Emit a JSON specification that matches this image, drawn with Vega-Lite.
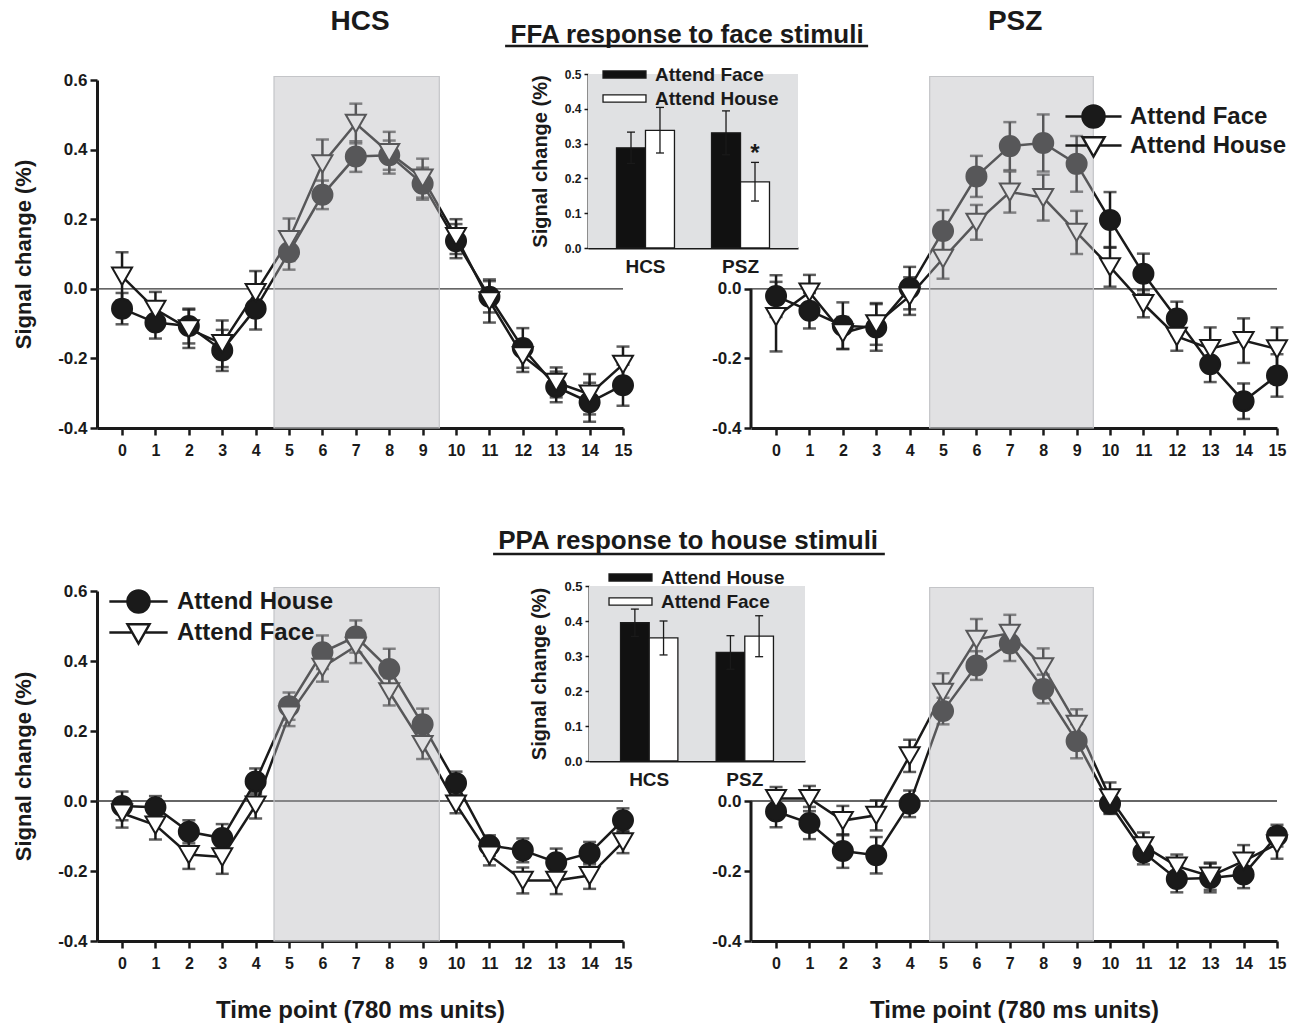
{
  "$schema": "https://vega.github.io/schema/vega-lite/v6.json",
  "width": 1297,
  "height": 1025,
  "autosize": "none",
  "padding": 0,
  "background": "#ffffff",
  "config": {
    "view": {"stroke": null},
    "font": "Liberation Sans",
    "locale": {"number": {"decimal": ".", "thousands": ",", "grouping": [3], "currency": ["$", ""], "minus": "-"}},
    "axis": {"grid": false, "domainColor": "#1a1a1a", "tickColor": "#1a1a1a", "labelColor": "#1a1a1a", "titleColor": "#1a1a1a", "labelFont": "Liberation Sans", "titleFont": "Liberation Sans", "labelFontWeight": "bold", "titleFontWeight": "bold", "labelOverlap": false, "labelFlush": false},
    "legend": {"labelFont": "Liberation Sans", "labelFontWeight": "bold", "labelColor": "#1a1a1a", "padding": 0, "labelLimit": 500, "title": null}
  },
  "datasets": {
    "ffa_hcs": [
      {"t":0,"cond":"Attend Face","v":-0.057,"lo":-0.102,"hi":-0.012},
      {"t":1,"cond":"Attend Face","v":-0.097,"lo":-0.143,"hi":-0.051},
      {"t":2,"cond":"Attend Face","v":-0.107,"lo":-0.157,"hi":-0.057},
      {"t":3,"cond":"Attend Face","v":-0.177,"lo":-0.236,"hi":-0.118},
      {"t":4,"cond":"Attend Face","v":-0.057,"lo":-0.117,"hi":0.003},
      {"t":5,"cond":"Attend Face","v":0.105,"lo":0.055,"hi":0.155},
      {"t":6,"cond":"Attend Face","v":0.270,"lo":0.229,"hi":0.311},
      {"t":7,"cond":"Attend Face","v":0.380,"lo":0.336,"hi":0.424},
      {"t":8,"cond":"Attend Face","v":0.384,"lo":0.342,"hi":0.426},
      {"t":9,"cond":"Attend Face","v":0.302,"lo":0.256,"hi":0.348},
      {"t":10,"cond":"Attend Face","v":0.137,"lo":0.088,"hi":0.186},
      {"t":11,"cond":"Attend Face","v":-0.023,"lo":-0.068,"hi":0.022},
      {"t":12,"cond":"Attend Face","v":-0.170,"lo":-0.227,"hi":-0.113},
      {"t":13,"cond":"Attend Face","v":-0.282,"lo":-0.326,"hi":-0.238},
      {"t":14,"cond":"Attend Face","v":-0.326,"lo":-0.382,"hi":-0.270},
      {"t":15,"cond":"Attend Face","v":-0.277,"lo":-0.336,"hi":-0.218},
      {"t":0,"cond":"Attend House","v":0.036,"lo":-0.033,"hi":0.105},
      {"t":1,"cond":"Attend House","v":-0.059,"lo":-0.109,"hi":-0.009},
      {"t":2,"cond":"Attend House","v":-0.115,"lo":-0.170,"hi":-0.060},
      {"t":3,"cond":"Attend House","v":-0.158,"lo":-0.225,"hi":-0.091},
      {"t":4,"cond":"Attend House","v":-0.011,"lo":-0.073,"hi":0.051},
      {"t":5,"cond":"Attend House","v":0.141,"lo":0.080,"hi":0.202},
      {"t":6,"cond":"Attend House","v":0.359,"lo":0.289,"hi":0.429},
      {"t":7,"cond":"Attend House","v":0.475,"lo":0.418,"hi":0.532},
      {"t":8,"cond":"Attend House","v":0.391,"lo":0.331,"hi":0.451},
      {"t":9,"cond":"Attend House","v":0.318,"lo":0.262,"hi":0.374},
      {"t":10,"cond":"Attend House","v":0.150,"lo":0.100,"hi":0.200},
      {"t":11,"cond":"Attend House","v":-0.035,"lo":-0.097,"hi":0.027},
      {"t":12,"cond":"Attend House","v":-0.193,"lo":-0.239,"hi":-0.147},
      {"t":13,"cond":"Attend House","v":-0.269,"lo":-0.312,"hi":-0.226},
      {"t":14,"cond":"Attend House","v":-0.303,"lo":-0.361,"hi":-0.245},
      {"t":15,"cond":"Attend House","v":-0.217,"lo":-0.268,"hi":-0.166}
    ],
    "ffa_psz": [
      {"t":0,"cond":"Attend Face","v":-0.021,"lo":-0.081,"hi":0.039},
      {"t":1,"cond":"Attend Face","v":-0.063,"lo":-0.114,"hi":-0.012},
      {"t":2,"cond":"Attend Face","v":-0.106,"lo":-0.173,"hi":-0.039},
      {"t":3,"cond":"Attend Face","v":-0.111,"lo":-0.178,"hi":-0.044},
      {"t":4,"cond":"Attend Face","v":0.002,"lo":-0.059,"hi":0.063},
      {"t":5,"cond":"Attend Face","v":0.166,"lo":0.106,"hi":0.226},
      {"t":6,"cond":"Attend Face","v":0.323,"lo":0.264,"hi":0.382},
      {"t":7,"cond":"Attend Face","v":0.410,"lo":0.341,"hi":0.479},
      {"t":8,"cond":"Attend Face","v":0.419,"lo":0.337,"hi":0.501},
      {"t":9,"cond":"Attend Face","v":0.359,"lo":0.279,"hi":0.439},
      {"t":10,"cond":"Attend Face","v":0.198,"lo":0.118,"hi":0.278},
      {"t":11,"cond":"Attend Face","v":0.043,"lo":-0.015,"hi":0.101},
      {"t":12,"cond":"Attend Face","v":-0.085,"lo":-0.133,"hi":-0.037},
      {"t":13,"cond":"Attend Face","v":-0.217,"lo":-0.268,"hi":-0.166},
      {"t":14,"cond":"Attend Face","v":-0.323,"lo":-0.374,"hi":-0.272},
      {"t":15,"cond":"Attend Face","v":-0.249,"lo":-0.310,"hi":-0.188},
      {"t":0,"cond":"Attend House","v":-0.080,"lo":-0.180,"hi":0.020},
      {"t":1,"cond":"Attend House","v":-0.010,"lo":-0.060,"hi":0.040},
      {"t":2,"cond":"Attend House","v":-0.127,"lo":-0.173,"hi":-0.081},
      {"t":3,"cond":"Attend House","v":-0.101,"lo":-0.161,"hi":-0.041},
      {"t":4,"cond":"Attend House","v":-0.021,"lo":-0.075,"hi":0.033},
      {"t":5,"cond":"Attend House","v":0.087,"lo":0.029,"hi":0.145},
      {"t":6,"cond":"Attend House","v":0.191,"lo":0.141,"hi":0.241},
      {"t":7,"cond":"Attend House","v":0.278,"lo":0.219,"hi":0.337},
      {"t":8,"cond":"Attend House","v":0.262,"lo":0.196,"hi":0.328},
      {"t":9,"cond":"Attend House","v":0.162,"lo":0.100,"hi":0.224},
      {"t":10,"cond":"Attend House","v":0.063,"lo":0.006,"hi":0.120},
      {"t":11,"cond":"Attend House","v":-0.043,"lo":-0.082,"hi":-0.004},
      {"t":12,"cond":"Attend House","v":-0.137,"lo":-0.178,"hi":-0.096},
      {"t":13,"cond":"Attend House","v":-0.172,"lo":-0.233,"hi":-0.111},
      {"t":14,"cond":"Attend House","v":-0.149,"lo":-0.213,"hi":-0.085},
      {"t":15,"cond":"Attend House","v":-0.173,"lo":-0.235,"hi":-0.111}
    ],
    "ppa_hcs": [
      {"t":0,"cond":"Attend House","v":-0.014,"lo":-0.055,"hi":0.027},
      {"t":1,"cond":"Attend House","v":-0.018,"lo":-0.050,"hi":0.014},
      {"t":2,"cond":"Attend House","v":-0.088,"lo":-0.121,"hi":-0.055},
      {"t":3,"cond":"Attend House","v":-0.106,"lo":-0.146,"hi":-0.066},
      {"t":4,"cond":"Attend House","v":0.056,"lo":0.019,"hi":0.093},
      {"t":5,"cond":"Attend House","v":0.271,"lo":0.232,"hi":0.310},
      {"t":6,"cond":"Attend House","v":0.425,"lo":0.377,"hi":0.473},
      {"t":7,"cond":"Attend House","v":0.470,"lo":0.424,"hi":0.516},
      {"t":8,"cond":"Attend House","v":0.377,"lo":0.319,"hi":0.435},
      {"t":9,"cond":"Attend House","v":0.219,"lo":0.174,"hi":0.264},
      {"t":10,"cond":"Attend House","v":0.051,"lo":0.018,"hi":0.084},
      {"t":11,"cond":"Attend House","v":-0.127,"lo":-0.156,"hi":-0.098},
      {"t":12,"cond":"Attend House","v":-0.141,"lo":-0.175,"hi":-0.107},
      {"t":13,"cond":"Attend House","v":-0.175,"lo":-0.214,"hi":-0.136},
      {"t":14,"cond":"Attend House","v":-0.149,"lo":-0.181,"hi":-0.117},
      {"t":15,"cond":"Attend House","v":-0.055,"lo":-0.089,"hi":-0.021},
      {"t":0,"cond":"Attend Face","v":-0.035,"lo":-0.076,"hi":0.006},
      {"t":1,"cond":"Attend Face","v":-0.069,"lo":-0.110,"hi":-0.028},
      {"t":2,"cond":"Attend Face","v":-0.153,"lo":-0.194,"hi":-0.112},
      {"t":3,"cond":"Attend Face","v":-0.160,"lo":-0.208,"hi":-0.112},
      {"t":4,"cond":"Attend Face","v":-0.012,"lo":-0.050,"hi":0.026},
      {"t":5,"cond":"Attend Face","v":0.245,"lo":0.214,"hi":0.276},
      {"t":6,"cond":"Attend Face","v":0.382,"lo":0.341,"hi":0.423},
      {"t":7,"cond":"Attend Face","v":0.442,"lo":0.394,"hi":0.490},
      {"t":8,"cond":"Attend Face","v":0.312,"lo":0.273,"hi":0.351},
      {"t":9,"cond":"Attend Face","v":0.161,"lo":0.120,"hi":0.202},
      {"t":10,"cond":"Attend Face","v":-0.009,"lo":-0.035,"hi":0.017},
      {"t":11,"cond":"Attend Face","v":-0.155,"lo":-0.184,"hi":-0.126},
      {"t":12,"cond":"Attend Face","v":-0.227,"lo":-0.264,"hi":-0.190},
      {"t":13,"cond":"Attend Face","v":-0.227,"lo":-0.266,"hi":-0.188},
      {"t":14,"cond":"Attend Face","v":-0.213,"lo":-0.251,"hi":-0.175},
      {"t":15,"cond":"Attend Face","v":-0.117,"lo":-0.149,"hi":-0.085}
    ],
    "ppa_psz": [
      {"t":0,"cond":"Attend House","v":-0.030,"lo":-0.075,"hi":0.015},
      {"t":1,"cond":"Attend House","v":-0.063,"lo":-0.109,"hi":-0.017},
      {"t":2,"cond":"Attend House","v":-0.143,"lo":-0.191,"hi":-0.095},
      {"t":3,"cond":"Attend House","v":-0.155,"lo":-0.207,"hi":-0.103},
      {"t":4,"cond":"Attend House","v":-0.008,"lo":-0.046,"hi":0.030},
      {"t":5,"cond":"Attend House","v":0.257,"lo":0.219,"hi":0.295},
      {"t":6,"cond":"Attend House","v":0.387,"lo":0.346,"hi":0.428},
      {"t":7,"cond":"Attend House","v":0.450,"lo":0.400,"hi":0.500},
      {"t":8,"cond":"Attend House","v":0.320,"lo":0.279,"hi":0.361},
      {"t":9,"cond":"Attend House","v":0.171,"lo":0.122,"hi":0.220},
      {"t":10,"cond":"Attend House","v":-0.008,"lo":-0.037,"hi":0.021},
      {"t":11,"cond":"Attend House","v":-0.147,"lo":-0.181,"hi":-0.113},
      {"t":12,"cond":"Attend House","v":-0.223,"lo":-0.261,"hi":-0.185},
      {"t":13,"cond":"Attend House","v":-0.220,"lo":-0.261,"hi":-0.179},
      {"t":14,"cond":"Attend House","v":-0.210,"lo":-0.249,"hi":-0.171},
      {"t":15,"cond":"Attend House","v":-0.099,"lo":-0.130,"hi":-0.068},
      {"t":0,"cond":"Attend Face","v":0.007,"lo":-0.026,"hi":0.040},
      {"t":1,"cond":"Attend Face","v":0.007,"lo":-0.029,"hi":0.043},
      {"t":2,"cond":"Attend Face","v":-0.056,"lo":-0.098,"hi":-0.014},
      {"t":3,"cond":"Attend Face","v":-0.041,"lo":-0.084,"hi":0.002},
      {"t":4,"cond":"Attend Face","v":0.129,"lo":0.083,"hi":0.175},
      {"t":5,"cond":"Attend Face","v":0.310,"lo":0.255,"hi":0.365},
      {"t":6,"cond":"Attend Face","v":0.462,"lo":0.404,"hi":0.520},
      {"t":7,"cond":"Attend Face","v":0.479,"lo":0.426,"hi":0.532},
      {"t":8,"cond":"Attend Face","v":0.383,"lo":0.330,"hi":0.436},
      {"t":9,"cond":"Attend Face","v":0.219,"lo":0.176,"hi":0.262},
      {"t":10,"cond":"Attend Face","v":0.009,"lo":-0.035,"hi":0.053},
      {"t":11,"cond":"Attend Face","v":-0.128,"lo":-0.166,"hi":-0.090},
      {"t":12,"cond":"Attend Face","v":-0.186,"lo":-0.219,"hi":-0.153},
      {"t":13,"cond":"Attend Face","v":-0.215,"lo":-0.254,"hi":-0.176},
      {"t":14,"cond":"Attend Face","v":-0.172,"lo":-0.218,"hi":-0.126},
      {"t":15,"cond":"Attend Face","v":-0.123,"lo":-0.165,"hi":-0.081}
    ],
    "ffa_bar": [
      {"group":"HCS","cond":"Attend Face","v":0.288,"lo":0.243,"hi":0.333,"sig":""},
      {"group":"HCS","cond":"Attend House","v":0.338,"lo":0.273,"hi":0.404,"sig":""},
      {"group":"PSZ","cond":"Attend Face","v":0.331,"lo":0.268,"hi":0.394,"sig":""},
      {"group":"PSZ","cond":"Attend House","v":0.190,"lo":0.135,"hi":0.246,"sig":"*"}
    ],
    "ppa_bar": [
      {"group":"HCS","cond":"Attend House","v":0.395,"lo":0.356,"hi":0.434},
      {"group":"HCS","cond":"Attend Face","v":0.352,"lo":0.303,"hi":0.400},
      {"group":"PSZ","cond":"Attend House","v":0.310,"lo":0.262,"hi":0.358},
      {"group":"PSZ","cond":"Attend Face","v":0.357,"lo":0.298,"hi":0.415}
    ]
  },
  "layer": [
    {
      "layer": [
        {"data": {"values": [{}]}, "mark": {"type": "rule", "color": "#333333", "strokeWidth": 1.3}, "encoding": {"x": {"datum": -0.75, "type": "quantitative"}, "x2": {"datum": 15}, "y": {"datum": 0, "type": "quantitative"}}},
        {
          "data": {"name": "ffa_hcs"},
          "encoding": {
            "x": {"field": "t", "type": "quantitative", "scale": {"domain": [-0.75, 15], "range": [97, 623], "nice": false, "zero": false},
                  "axis": {"orient": "bottom", "offset": -597, "values": [0,1,2,3,4,5,6,7,8,9,10,11,12,13,14,15], "format": "d", "title": null, "domainWidth": 3, "tickWidth": 2.5, "tickSize": 7, "labelFontSize": 16, "labelPadding": 7}},
            "y": {"field": "v", "type": "quantitative", "scale": {"domain": [-0.4, 0.6], "range": [428, 80], "nice": false, "zero": false},
                  "axis": {"orient": "left", "offset": -97, "values": [-0.4,-0.2,0,0.2,0.4,0.6], "format": ".1f", "title": "Signal change (%)", "titleFontSize": 22, "titlePadding": 22, "domainWidth": 3, "tickWidth": 2.5, "tickSize": 7, "labelFontSize": 17, "labelPadding": 3}}
          },
          "layer": [
            {"mark": {"type": "line", "color": "#1a1a1a", "strokeWidth": 2.5}, "encoding": {"detail": {"field": "cond"}}},
            {"mark": {"type": "errorbar", "color": "#1a1a1a", "thickness": 2.5, "ticks": {"size": 13, "thickness": 2.5}}, "encoding": {"y": {"field": "lo", "type": "quantitative"}, "y2": {"field": "hi"}, "detail": {"field": "cond"}}},
            {"mark": {"type": "point", "filled": true, "size": 400, "opacity": 1, "stroke": "#1a1a1a", "strokeWidth": 2},
             "encoding": {"shape": {"condition": {"test": "datum.cond === 'Attend Face'", "value": "circle"}, "value": "triangle-down"},
                          "fill": {"field": "cond", "scale": {"domain": ["Attend Face", "Attend House"], "range": ["#1a1a1a", "#ffffff"]}, "legend": null}}}
          ]
        },
        {"data": {"values": [{}]}, "mark": {"type": "rect", "fill": "#b3b5ba", "fillOpacity": 0.4, "stroke": "#c4c5c8", "strokeWidth": 1.2}, "encoding": {"x": {"datum": 4.55, "type": "quantitative"}, "x2": {"datum": 9.5}, "y": {"datum": -0.4, "type": "quantitative"}, "y2": {"datum": 0.61}}},
        {"data": {"values": [{}]}, "mark": {"type": "text", "text": "HCS", "fontSize": 28, "fontWeight": "bold", "color": "#1a1a1a", "align": "center", "baseline": "middle"}, "encoding": {"x": {"datum": 7.13, "type": "quantitative"}, "y": {"datum": 0.767, "type": "quantitative"}}},
        {"data": {"values": [{}]}, "mark": {"type": "text", "text": "FFA response to face stimuli", "fontSize": 26, "fontWeight": "bold", "color": "#1a1a1a", "align": "center", "baseline": "middle"}, "encoding": {"x": {"datum": 16.92, "type": "quantitative"}, "y": {"datum": 0.73, "type": "quantitative"}}},
        {"data": {"values": [{}]}, "mark": {"type": "rule", "color": "#1a1a1a", "strokeWidth": 2.5}, "encoding": {"x": {"datum": 11.47, "type": "quantitative"}, "x2": {"datum": 22.34}, "y": {"datum": 0.698, "type": "quantitative"}}}
      ]
    },
    {
      "layer": [
        {"data": {"values": [{}]}, "mark": {"type": "rule", "color": "#1a1a1a", "strokeWidth": 3}, "encoding": {"x": {"datum": -0.75, "type": "quantitative"}, "y": {"datum": -0.4, "type": "quantitative"}, "y2": {"datum": 0}}},
        {"data": {"values": [{}]}, "mark": {"type": "rule", "color": "#333333", "strokeWidth": 1.3}, "encoding": {"x": {"datum": -0.75, "type": "quantitative"}, "x2": {"datum": 15}, "y": {"datum": 0, "type": "quantitative"}}},
        {
          "data": {"name": "ffa_psz"},
          "encoding": {
            "x": {"field": "t", "type": "quantitative", "scale": {"domain": [-0.75, 15], "range": [751, 1277], "nice": false, "zero": false},
                  "axis": {"orient": "bottom", "offset": -597, "values": [0,1,2,3,4,5,6,7,8,9,10,11,12,13,14,15], "format": "d", "title": null, "domainWidth": 3, "tickWidth": 2.5, "tickSize": 7, "labelFontSize": 16, "labelPadding": 7}},
            "y": {"field": "v", "type": "quantitative", "scale": {"domain": [-0.4, 0.6], "range": [428, 80], "nice": false, "zero": false},
                  "axis": {"orient": "left", "offset": -751, "values": [-0.4,-0.2,0], "format": ".1f", "title": null, "domain": false, "tickWidth": 2.5, "tickSize": 7, "labelFontSize": 17, "labelPadding": 3}}
          },
          "layer": [
            {"mark": {"type": "line", "color": "#1a1a1a", "strokeWidth": 2.5}, "encoding": {"detail": {"field": "cond"}}},
            {"mark": {"type": "errorbar", "color": "#1a1a1a", "thickness": 2.5, "ticks": {"size": 13, "thickness": 2.5}}, "encoding": {"y": {"field": "lo", "type": "quantitative"}, "y2": {"field": "hi"}, "detail": {"field": "cond"}}},
            {"transform": [{"filter": "datum.cond === 'Attend Face'"}],
             "mark": {"type": "point", "shape": "circle", "filled": true, "size": 400, "opacity": 1, "stroke": "#1a1a1a", "strokeWidth": 2},
             "encoding": {"fill": {"field": "cond", "scale": {"domain": ["Attend Face"], "range": ["#1a1a1a"]},
                                   "legend": {"orient": "none", "legendX": 1081, "legendY": 104, "labelFontSize": 24, "symbolSize": 484, "symbolType": "M-2.55,0L-1,0M1,0L2.55,0M-1,0A1,1,0,1,0,1,0A1,1,0,1,0,-1,0Z", "symbolStrokeWidth": 2.5, "symbolStrokeColor": "#1a1a1a", "labelOffset": 24}}}},
            {"transform": [{"filter": "datum.cond === 'Attend House'"}],
             "mark": {"type": "point", "shape": "triangle-down", "filled": true, "fill": "#ffffff", "size": 400, "opacity": 1, "strokeWidth": 2},
             "encoding": {"stroke": {"field": "cond", "scale": {"domain": ["Attend House"], "range": ["#1a1a1a"]},
                                     "legend": {"orient": "none", "legendX": 1081, "legendY": 133, "labelFontSize": 24, "symbolSize": 484, "symbolType": "M-2.55,0L-0.57,0M0.57,0L2.55,0M-1,-0.75L1,-0.75L0,1Z", "symbolFillColor": "#ffffff", "symbolStrokeWidth": 2.5, "labelOffset": 24}}}}
          ]
        },
        {"data": {"values": [{}]}, "mark": {"type": "rect", "fill": "#b3b5ba", "fillOpacity": 0.4, "stroke": "#c4c5c8", "strokeWidth": 1.2}, "encoding": {"x": {"datum": 4.6, "type": "quantitative"}, "x2": {"datum": 9.5}, "y": {"datum": -0.4, "type": "quantitative"}, "y2": {"datum": 0.61}}},
        {"data": {"values": [{}]}, "mark": {"type": "text", "text": "PSZ", "fontSize": 28, "fontWeight": "bold", "color": "#1a1a1a", "align": "center", "baseline": "middle"}, "encoding": {"x": {"datum": 7.16, "type": "quantitative"}, "y": {"datum": 0.767, "type": "quantitative"}}}
      ]
    },
    {
      "layer": [
        {"data": {"values": [{}]}, "mark": {"type": "rule", "color": "#333333", "strokeWidth": 1.3}, "encoding": {"x": {"datum": -0.75, "type": "quantitative"}, "x2": {"datum": 15}, "y": {"datum": 0, "type": "quantitative"}}},
        {
          "data": {"name": "ppa_hcs"},
          "encoding": {
            "x": {"field": "t", "type": "quantitative", "scale": {"domain": [-0.75, 15], "range": [97, 623], "nice": false, "zero": false},
                  "axis": {"orient": "bottom", "offset": -84, "values": [0,1,2,3,4,5,6,7,8,9,10,11,12,13,14,15], "format": "d", "title": "Time point (780 ms units)", "titleFontSize": 24, "titlePadding": 27, "domainWidth": 3, "tickWidth": 2.5, "tickSize": 7, "labelFontSize": 16, "labelPadding": 7}},
            "y": {"field": "v", "type": "quantitative", "scale": {"domain": [-0.4, 0.6], "range": [941, 591], "nice": false, "zero": false},
                  "axis": {"orient": "left", "offset": -97, "values": [-0.4,-0.2,0,0.2,0.4,0.6], "format": ".1f", "title": "Signal change (%)", "titleFontSize": 22, "titlePadding": 22, "domainWidth": 3, "tickWidth": 2.5, "tickSize": 7, "labelFontSize": 17, "labelPadding": 3}}
          },
          "layer": [
            {"mark": {"type": "line", "color": "#1a1a1a", "strokeWidth": 2.5}, "encoding": {"detail": {"field": "cond"}}},
            {"mark": {"type": "errorbar", "color": "#1a1a1a", "thickness": 2.5, "ticks": {"size": 13, "thickness": 2.5}}, "encoding": {"y": {"field": "lo", "type": "quantitative"}, "y2": {"field": "hi"}, "detail": {"field": "cond"}}},
            {"transform": [{"filter": "datum.cond === 'Attend House'"}],
             "mark": {"type": "point", "shape": "circle", "filled": true, "size": 400, "opacity": 1, "stroke": "#1a1a1a", "strokeWidth": 2},
             "encoding": {"fill": {"field": "cond", "scale": {"domain": ["Attend House"], "range": ["#1a1a1a"]},
                                   "legend": {"orient": "none", "legendX": 126, "legendY": 589, "labelFontSize": 24, "symbolSize": 484, "symbolType": "M-2.65,0L-1,0M1,0L2.65,0M-1,0A1,1,0,1,0,1,0A1,1,0,1,0,-1,0Z", "symbolStrokeWidth": 2.5, "symbolStrokeColor": "#1a1a1a", "labelOffset": 26}}}},
            {"transform": [{"filter": "datum.cond === 'Attend Face'"}],
             "mark": {"type": "point", "shape": "triangle-down", "filled": true, "fill": "#ffffff", "size": 400, "opacity": 1, "strokeWidth": 2},
             "encoding": {"stroke": {"field": "cond", "scale": {"domain": ["Attend Face"], "range": ["#1a1a1a"]},
                                     "legend": {"orient": "none", "legendX": 126, "legendY": 620, "labelFontSize": 24, "symbolSize": 484, "symbolType": "M-2.65,0L-0.57,0M0.57,0L2.65,0M-1,-0.75L1,-0.75L0,1Z", "symbolFillColor": "#ffffff", "symbolStrokeWidth": 2.5, "labelOffset": 26}}}}
          ]
        },
        {"data": {"values": [{}]}, "mark": {"type": "rect", "fill": "#b3b5ba", "fillOpacity": 0.4, "stroke": "#c4c5c8", "strokeWidth": 1.2}, "encoding": {"x": {"datum": 4.55, "type": "quantitative"}, "x2": {"datum": 9.5}, "y": {"datum": -0.4, "type": "quantitative"}, "y2": {"datum": 0.61}}},
        {"data": {"values": [{}]}, "mark": {"type": "text", "text": "PPA response to house stimuli", "fontSize": 26, "fontWeight": "bold", "color": "#1a1a1a", "align": "center", "baseline": "middle"}, "encoding": {"x": {"datum": 16.95, "type": "quantitative"}, "y": {"datum": 0.743, "type": "quantitative"}}},
        {"data": {"values": [{}]}, "mark": {"type": "rule", "color": "#1a1a1a", "strokeWidth": 2.5}, "encoding": {"x": {"datum": 11.11, "type": "quantitative"}, "x2": {"datum": 22.84}, "y": {"datum": 0.706, "type": "quantitative"}}}
      ]
    },
    {
      "layer": [
        {"data": {"values": [{}]}, "mark": {"type": "rule", "color": "#1a1a1a", "strokeWidth": 3}, "encoding": {"x": {"datum": -0.75, "type": "quantitative"}, "y": {"datum": -0.4, "type": "quantitative"}, "y2": {"datum": 0}}},
        {"data": {"values": [{}]}, "mark": {"type": "rule", "color": "#333333", "strokeWidth": 1.3}, "encoding": {"x": {"datum": -0.75, "type": "quantitative"}, "x2": {"datum": 15}, "y": {"datum": 0, "type": "quantitative"}}},
        {
          "data": {"name": "ppa_psz"},
          "encoding": {
            "x": {"field": "t", "type": "quantitative", "scale": {"domain": [-0.75, 15], "range": [751, 1277], "nice": false, "zero": false},
                  "axis": {"orient": "bottom", "offset": -84, "values": [0,1,2,3,4,5,6,7,8,9,10,11,12,13,14,15], "format": "d", "title": "Time point (780 ms units)", "titleFontSize": 24, "titlePadding": 27, "domainWidth": 3, "tickWidth": 2.5, "tickSize": 7, "labelFontSize": 16, "labelPadding": 7}},
            "y": {"field": "v", "type": "quantitative", "scale": {"domain": [-0.4, 0.6], "range": [941, 591], "nice": false, "zero": false},
                  "axis": {"orient": "left", "offset": -751, "values": [-0.4,-0.2,0], "format": ".1f", "title": null, "domain": false, "tickWidth": 2.5, "tickSize": 7, "labelFontSize": 17, "labelPadding": 3}}
          },
          "layer": [
            {"mark": {"type": "line", "color": "#1a1a1a", "strokeWidth": 2.5}, "encoding": {"detail": {"field": "cond"}}},
            {"mark": {"type": "errorbar", "color": "#1a1a1a", "thickness": 2.5, "ticks": {"size": 13, "thickness": 2.5}}, "encoding": {"y": {"field": "lo", "type": "quantitative"}, "y2": {"field": "hi"}, "detail": {"field": "cond"}}},
            {"mark": {"type": "point", "filled": true, "size": 400, "opacity": 1, "stroke": "#1a1a1a", "strokeWidth": 2},
             "encoding": {"shape": {"condition": {"test": "datum.cond === 'Attend House'", "value": "circle"}, "value": "triangle-down"},
                          "fill": {"field": "cond", "scale": {"domain": ["Attend House", "Attend Face"], "range": ["#1a1a1a", "#ffffff"]}, "legend": null}}}
          ]
        },
        {"data": {"values": [{}]}, "mark": {"type": "rect", "fill": "#b3b5ba", "fillOpacity": 0.4, "stroke": "#c4c5c8", "strokeWidth": 1.2}, "encoding": {"x": {"datum": 4.6, "type": "quantitative"}, "x2": {"datum": 9.5}, "y": {"datum": -0.4, "type": "quantitative"}, "y2": {"datum": 0.61}}}
      ]
    },
    {
      "data": {"name": "ffa_bar"},
      "layer": [
        {"data": {"values": [{}]}, "mark": {"type": "rect", "fill": "#e0e1e3"},
         "encoding": {"x": {"datum": 0, "type": "quantitative", "scale": {"domain": [0, 1], "range": [588, 798], "nice": false, "zero": false}, "axis": null}, "x2": {"datum": 1},
                      "y": {"datum": 0, "type": "quantitative"}, "y2": {"datum": 0.5}}},
        {
          "encoding": {
            "x": {"field": "group", "type": "nominal", "scale": {"domain": ["HCS", "PSZ"], "range": [588, 798], "paddingInner": 0.39, "paddingOuter": 0.3},
                  "axis": {"orient": "bottom", "offset": -777, "title": null, "labelAngle": 0, "ticks": false, "domainWidth": 2, "labelFontSize": 19, "labelPadding": 9}},
            "xOffset": {"field": "cond", "type": "nominal", "scale": {"domain": ["Attend Face", "Attend House"]}},
            "y": {"field": "v", "type": "quantitative", "scale": {"domain": [0, 0.5], "range": [248, 74], "nice": false, "zero": false},
                  "axis": {"orient": "left", "offset": -588, "values": [0, 0.1, 0.2, 0.3, 0.4, 0.5], "format": ".1f", "title": "Signal change (%)", "titleFontSize": 20, "titlePadding": 14, "domainWidth": 2, "tickWidth": 1.5, "tickSize": 4, "labelFontSize": 12, "labelPadding": 3}}
          },
          "layer": [
            {"mark": {"type": "bar", "stroke": "#1a1a1a", "strokeWidth": 1.3},
             "encoding": {"fill": {"field": "cond", "scale": {"domain": ["Attend Face", "Attend House"], "range": ["#111111", "#ffffff"]},
                                   "legend": {"orient": "none", "legendX": 615, "legendY": 65, "labelFontSize": 19, "symbolType": "M-3,-0.5H3V0.5H-3Z", "symbolSize": 205, "symbolStrokeColor": "#1a1a1a", "symbolStrokeWidth": 1.3, "labelOffset": 21, "rowPadding": 4,
                                              "encode": {"symbols": {"update": {"stroke": {"value": "#1a1a1a"}, "strokeWidth": {"value": 1.3}, "opacity": {"value": 1}}}}}}}},
            {"mark": {"type": "rule", "color": "#1a1a1a", "strokeWidth": 1.3}, "encoding": {"y": {"field": "lo", "type": "quantitative"}, "y2": {"field": "hi"}}},
            {"mark": {"type": "tick", "color": "#1a1a1a", "size": 8, "thickness": 1.3, "opacity": 1}, "encoding": {"y": {"field": "hi", "type": "quantitative"}}},
            {"mark": {"type": "tick", "color": "#1a1a1a", "size": 8, "thickness": 1.3, "opacity": 1}, "encoding": {"y": {"field": "lo", "type": "quantitative"}}},
            {"mark": {"type": "text", "fontSize": 24, "fontWeight": "bold", "color": "#1a1a1a", "baseline": "alphabetic", "dy": -1}, "encoding": {"y": {"field": "hi", "type": "quantitative"}, "text": {"field": "sig"}}}
          ]
        }
      ],
      "resolve": {"scale": {"x": "independent"}, "axis": {"x": "independent"}}
    },
    {
      "data": {"name": "ppa_bar"},
      "layer": [
        {"data": {"values": [{}]}, "mark": {"type": "rect", "fill": "#e0e1e3"},
         "encoding": {"x": {"datum": 0, "type": "quantitative", "scale": {"domain": [0, 1], "range": [589, 805], "nice": false, "zero": false}, "axis": null}, "x2": {"datum": 1},
                      "y": {"datum": 0, "type": "quantitative"}, "y2": {"datum": 0.5}}},
        {
          "encoding": {
            "x": {"field": "group", "type": "nominal", "scale": {"domain": ["HCS", "PSZ"], "range": [589, 805], "paddingInner": 0.4, "paddingOuter": 0.33},
                  "axis": {"orient": "bottom", "offset": -264, "title": null, "labelAngle": 0, "ticks": false, "domainWidth": 2, "labelFontSize": 19, "labelPadding": 9}},
            "xOffset": {"field": "cond", "type": "nominal", "scale": {"domain": ["Attend House", "Attend Face"]}},
            "y": {"field": "v", "type": "quantitative", "scale": {"domain": [0, 0.5], "range": [761, 586], "nice": false, "zero": false},
                  "axis": {"orient": "left", "offset": -589, "values": [0, 0.1, 0.2, 0.3, 0.4, 0.5], "format": ".1f", "title": "Signal change (%)", "titleFontSize": 20, "titlePadding": 14, "domainWidth": 2, "tickWidth": 1.5, "tickSize": 4, "labelFontSize": 13, "labelPadding": 3}}
          },
          "layer": [
            {"mark": {"type": "bar", "stroke": "#1a1a1a", "strokeWidth": 1.3},
             "encoding": {"fill": {"field": "cond", "scale": {"domain": ["Attend House", "Attend Face"], "range": ["#111111", "#ffffff"]},
                                   "legend": {"orient": "none", "legendX": 621, "legendY": 568, "labelFontSize": 19, "symbolType": "M-3,-0.5H3V0.5H-3Z", "symbolSize": 205, "symbolStrokeColor": "#1a1a1a", "symbolStrokeWidth": 1.3, "labelOffset": 21, "rowPadding": 4,
                                              "encode": {"symbols": {"update": {"stroke": {"value": "#1a1a1a"}, "strokeWidth": {"value": 1.3}, "opacity": {"value": 1}}}}}}}},
            {"mark": {"type": "rule", "color": "#1a1a1a", "strokeWidth": 1.3}, "encoding": {"y": {"field": "lo", "type": "quantitative"}, "y2": {"field": "hi"}}},
            {"mark": {"type": "tick", "color": "#1a1a1a", "size": 8, "thickness": 1.3, "opacity": 1}, "encoding": {"y": {"field": "hi", "type": "quantitative"}}},
            {"mark": {"type": "tick", "color": "#1a1a1a", "size": 8, "thickness": 1.3, "opacity": 1}, "encoding": {"y": {"field": "lo", "type": "quantitative"}}}
          ]
        }
      ],
      "resolve": {"scale": {"x": "independent"}, "axis": {"x": "independent"}}
    }
  ],
  "resolve": {
    "scale": {"x": "independent", "y": "independent", "fill": "independent", "stroke": "independent", "xOffset": "independent"},
    "axis": {"x": "independent", "y": "independent"},
    "legend": {"fill": "independent", "stroke": "independent"}
  }
}
